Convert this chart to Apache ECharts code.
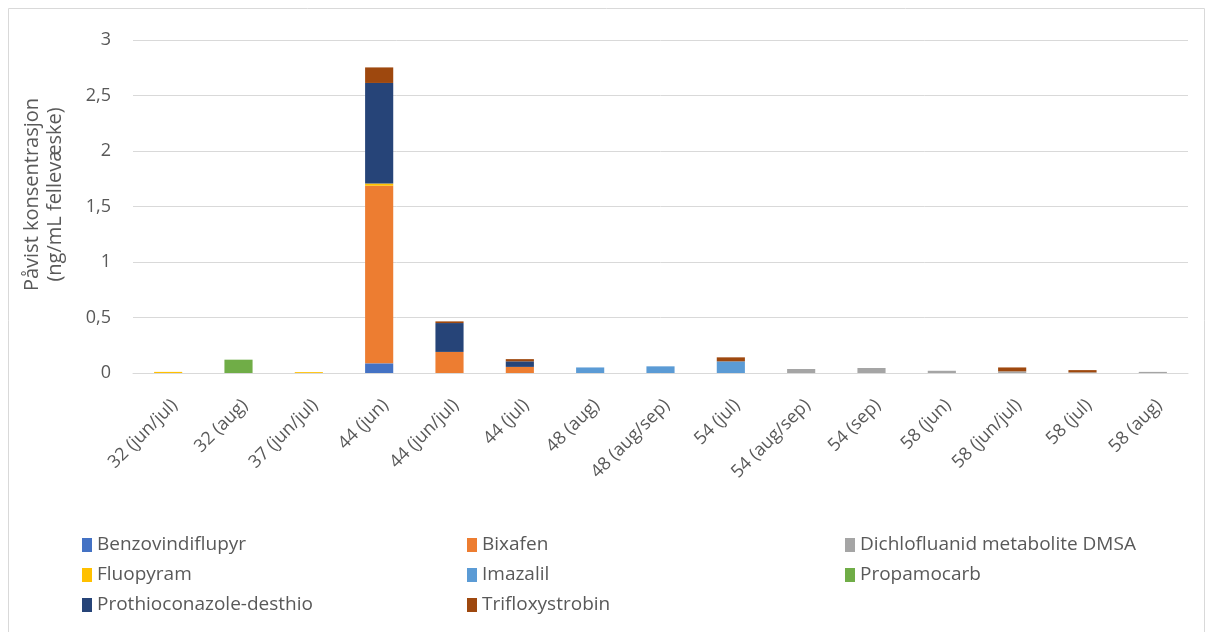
<!DOCTYPE html>
<html>
<head>
<meta charset="utf-8">
<script src="https://cdn.jsdelivr.net/npm/echarts@6/dist/echarts.min.js"></script>
<style>
html,body{margin:0;padding:0;background:#fff;}
#c{width:1213px;height:632px;}
</style>
</head>
<body>
<div id="c"></div>
<script>
var categories = ['32 (jun/jul)','32 (aug)','37 (jun/jul)','44 (jun)','44 (jun/jul)','44 (jul)','48 (aug)','48 (aug/sep)','54 (jul)','54 (aug/sep)','54 (sep)','58 (jun)','58 (jun/jul)','58 (jul)','58 (aug)'];
var benzovindiflupyr = [0,0,0,0.087,0,0,0,0,0,0,0,0,0,0,0];
var bixafen          = [0,0,0,1.60,0.19,0.055,0,0,0,0,0,0,0,0,0];
var dichlofluanidDMSA= [0,0,0,0,0,0,0,0,0,0.036,0.045,0.02,0.015,0.006,0.01];
var fluopyram        = [0.01,0,0.008,0.02,0,0,0,0,0,0,0,0,0,0,0];
var imazalil         = [0,0,0,0,0,0,0.05,0.06,0.105,0,0,0,0,0,0];
var propamocarb      = [0,0.12,0,0,0,0,0,0,0,0,0,0,0,0,0];
var prothioconazole  = [0,0,0,0.906,0.26,0.05,0,0,0,0,0,0,0,0,0];
var trifloxystrobin  = [0,0,0,0.14,0.015,0.02,0,0,0.036,0,0,0,0.035,0.02,0];
var yTicks = [0,0.5,1,1.5,2,2.5,3];

var seriesDefs = [
  ['Benzovindiflupyr', benzovindiflupyr, '#4472C4'],
  ['Bixafen', bixafen, '#ED7D31'],
  ['Dichlofluanid metabolite DMSA', dichlofluanidDMSA, '#A5A5A5'],
  ['Fluopyram', fluopyram, '#FFC000'],
  ['Imazalil', imazalil, '#5B9BD5'],
  ['Propamocarb', propamocarb, '#70AD47'],
  ['Prothioconazole-desthio', prothioconazole, '#264478'],
  ['Trifloxystrobin', trifloxystrobin, '#9E480E']
];
var series = seriesDefs.map(function(s){
  return {name:s[0], type:'bar', stack:'total', barWidth:'40%', data:s[1].map(function(v){return v===0?null:v;}), itemStyle:{color:s[2]}};
});
var legendBase = {orient:'vertical', itemWidth:10, itemHeight:14, itemGap:10, icon:'rect', padding:0,
  textStyle:{color:'#595959', fontSize:19, lineHeight:20, fontFamily:'Open Sans, sans-serif'}};
var chart = echarts.init(document.getElementById('c'));
chart.setOption({
  animation:false,
  textStyle:{fontFamily:'Open Sans, sans-serif'},
  graphic:[{type:'rect', shape:{x:8.5,y:8.5,width:1196,height:640}, style:{fill:'none', stroke:'#D9D9D9', lineWidth:1}, silent:true}],
  legend:[
    Object.assign({left:82, top:535, data:['Benzovindiflupyr','Fluopyram','Prothioconazole-desthio']}, legendBase),
    Object.assign({left:467, top:535, data:['Bixafen','Imazalil','Trifloxystrobin']}, legendBase),
    Object.assign({left:845, top:535, data:['Dichlofluanid metabolite DMSA','Propamocarb']}, legendBase)
  ],
  grid:{left:133, right:25, top:40, bottom:259, containLabel:false},
  xAxis:{type:'category', data:categories,
    axisLine:{lineStyle:{color:'#D9D9D9', width:1}}, axisTick:{show:false},
    axisLabel:{rotate:45, color:'#595959', fontSize:18, margin:23, verticalAlign:'top', interval:0}},
  yAxis:{type:'value', min:0, max:3, interval:0.5,
    name:'Påvist konsentrasjon\n(ng/mL fellevæske)', nameLocation:'middle', nameRotate:90, nameGap:66,
    nameTextStyle:{color:'#595959', fontSize:20, lineHeight:23, padding:[0,0,0,24]},
    axisLine:{show:false}, axisTick:{show:false},
    splitLine:{lineStyle:{color:'#D9D9D9'}},
    axisLabel:{color:'#595959', fontSize:18, margin:22, formatter:function(v){return String(v).replace('.',',');}}},
  series:series
});
</script>
</body>
</html>
